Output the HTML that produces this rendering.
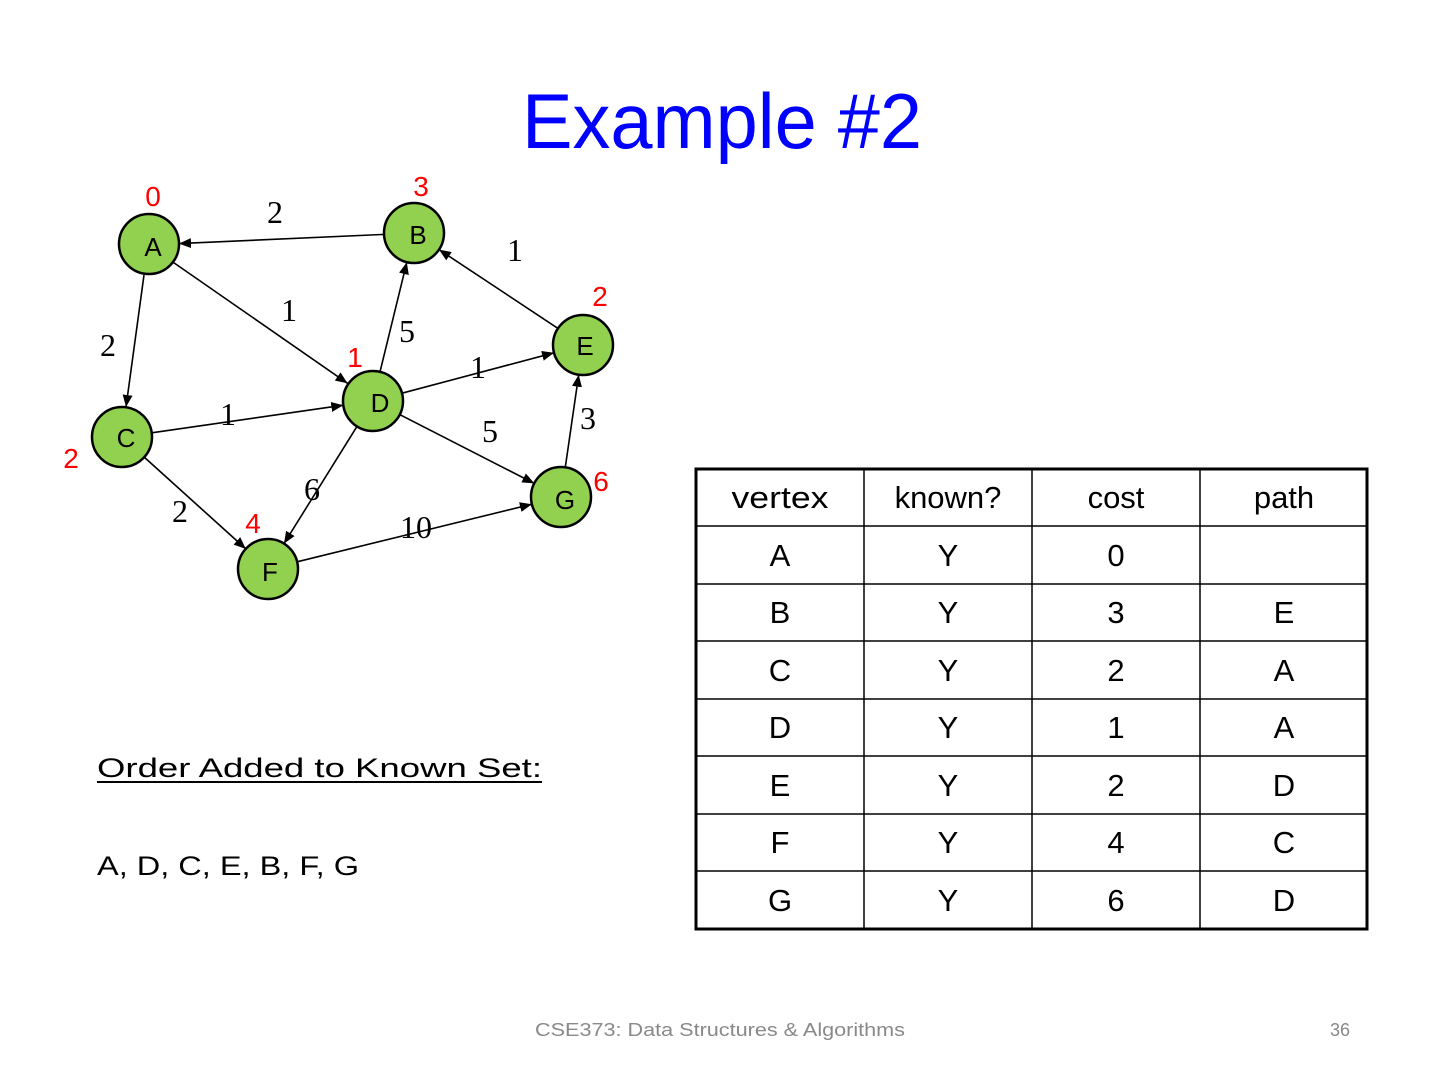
<!DOCTYPE html>
<html><head><meta charset="utf-8"><style>
html,body{margin:0;padding:0;background:#fff;}
svg{display:block;}
</style></head><body>
<svg width="1440" height="1080" viewBox="0 0 1440 1080" xmlns="http://www.w3.org/2000/svg">
<defs>
<marker id="ar" viewBox="0 0 12 10" refX="12" refY="5" markerWidth="12" markerHeight="10" markerUnits="userSpaceOnUse" orient="auto">
<path d="M0,0 L12,5 L0,10 z" fill="#000"/>
</marker>
</defs>
<rect width="1440" height="1080" fill="#fff"/>
<text x="522" y="148" font-family="Liberation Sans, sans-serif" font-size="78" fill="#0000FF" textLength="400" lengthAdjust="spacingAndGlyphs">Example #2</text>

<g stroke="#000" stroke-width="1.6" marker-end="url(#ar)">
<line x1="384" y1="234.4" x2="179" y2="243.6"/>
<line x1="173.5" y1="262.5" x2="347.5" y2="383.3"/>
<line x1="144" y1="275" x2="126" y2="407"/>
<line x1="380" y1="371.8" x2="406.8" y2="262.2"/>
<line x1="558" y1="328.4" x2="439" y2="249.6"/>
<line x1="402" y1="393.2" x2="554" y2="352.8"/>
<line x1="151.7" y1="432.8" x2="343.3" y2="405.2"/>
<line x1="399.7" y1="414.6" x2="534.3" y2="483.4"/>
<line x1="357" y1="426.4" x2="284" y2="543.6"/>
<line x1="144.2" y1="457.1" x2="245.8" y2="548.9"/>
<line x1="297.1" y1="561.8" x2="531.9" y2="504.2"/>
<line x1="565.3" y1="467.3" x2="578.7" y2="374.7"/>
</g>

<g fill="#92D050" stroke="#000" stroke-width="2.5">
<circle cx="149" cy="244" r="30"/>
<circle cx="414" cy="233" r="30"/>
<circle cx="583" cy="345" r="30"/>
<circle cx="373" cy="401" r="30"/>
<circle cx="122" cy="437" r="30"/>
<circle cx="561" cy="497" r="30"/>
<circle cx="268" cy="569" r="30"/>
</g>
<g font-family="Liberation Sans, sans-serif" font-size="26" text-anchor="middle" fill="#000">
<text x="153" y="256">A</text>
<text x="418" y="244">B</text>
<text x="585" y="355">E</text>
<text x="380" y="412">D</text>
<text x="126" y="447">C</text>
<text x="565" y="509">G</text>
<text x="270" y="581">F</text>
</g>
<g font-family="Liberation Serif, serif" font-size="32" text-anchor="middle" fill="#000">
<text x="275" y="223">2</text>
<text x="515" y="261">1</text>
<text x="289" y="321">1</text>
<text x="407" y="342">5</text>
<text x="108" y="356">2</text>
<text x="478" y="378">1</text>
<text x="228" y="425">1</text>
<text x="588" y="429">3</text>
<text x="490" y="442">5</text>
<text x="312" y="500">6</text>
<text x="180" y="522">2</text>
<text x="416" y="538">10</text>
</g>
<g font-family="Liberation Sans, sans-serif" font-size="28" text-anchor="middle" fill="#FF0000">
<text x="153" y="206">0</text>
<text x="421" y="196">3</text>
<text x="600" y="306">2</text>
<text x="355" y="367">1</text>
<text x="71" y="468">2</text>
<text x="601" y="491">6</text>
<text x="253" y="533">4</text>
</g>

<g font-family="Liberation Sans, sans-serif" font-size="27" fill="#000">
<text x="97" y="777" textLength="445" lengthAdjust="spacingAndGlyphs">Order Added to Known Set:</text>
<rect x="97" y="781" width="445" height="2"/>
<text x="97" y="875" textLength="262" lengthAdjust="spacingAndGlyphs">A, D, C, E, B, F, G</text>
</g>

<!-- table -->
<g stroke="#000" stroke-width="1.5">
<line x1="695" y1="526" x2="1368" y2="526"/>
<line x1="695" y1="584" x2="1368" y2="584"/>
<line x1="695" y1="641" x2="1368" y2="641"/>
<line x1="695" y1="699" x2="1368" y2="699"/>
<line x1="695" y1="756" x2="1368" y2="756"/>
<line x1="695" y1="814" x2="1368" y2="814"/>
<line x1="695" y1="871" x2="1368" y2="871"/>
<line x1="864" y1="469" x2="864" y2="929"/>
<line x1="1032" y1="469" x2="1032" y2="929"/>
<line x1="1200" y1="469" x2="1200" y2="929"/>
</g>
<rect x="696" y="469" width="671" height="460" fill="none" stroke="#000" stroke-width="3"/>
<g font-family="Liberation Sans, sans-serif" font-size="31" text-anchor="middle" fill="#000">
<text x="780" y="508" textLength="97" lengthAdjust="spacingAndGlyphs">vertex</text>
<text x="948" y="508">known?</text>
<text x="1116" y="508">cost</text>
<text x="1284" y="508">path</text>
<text x="780" y="566">A</text><text x="948" y="566">Y</text><text x="1116" y="566">0</text>
<text x="780" y="623">B</text><text x="948" y="623">Y</text><text x="1116" y="623">3</text><text x="1284" y="623">E</text>
<text x="780" y="681">C</text><text x="948" y="681">Y</text><text x="1116" y="681">2</text><text x="1284" y="681">A</text>
<text x="780" y="738">D</text><text x="948" y="738">Y</text><text x="1116" y="738">1</text><text x="1284" y="738">A</text>
<text x="780" y="796">E</text><text x="948" y="796">Y</text><text x="1116" y="796">2</text><text x="1284" y="796">D</text>
<text x="780" y="853">F</text><text x="948" y="853">Y</text><text x="1116" y="853">4</text><text x="1284" y="853">C</text>
<text x="780" y="911">G</text><text x="948" y="911">Y</text><text x="1116" y="911">6</text><text x="1284" y="911">D</text>
</g>

<g font-family="Liberation Sans, sans-serif" font-size="18" fill="#898989">
<text x="535" y="1036" textLength="370" lengthAdjust="spacingAndGlyphs">CSE373: Data Structures &amp; Algorithms</text>
<text x="1340" y="1036" text-anchor="middle">36</text>
</g>
</svg>
</body></html>
